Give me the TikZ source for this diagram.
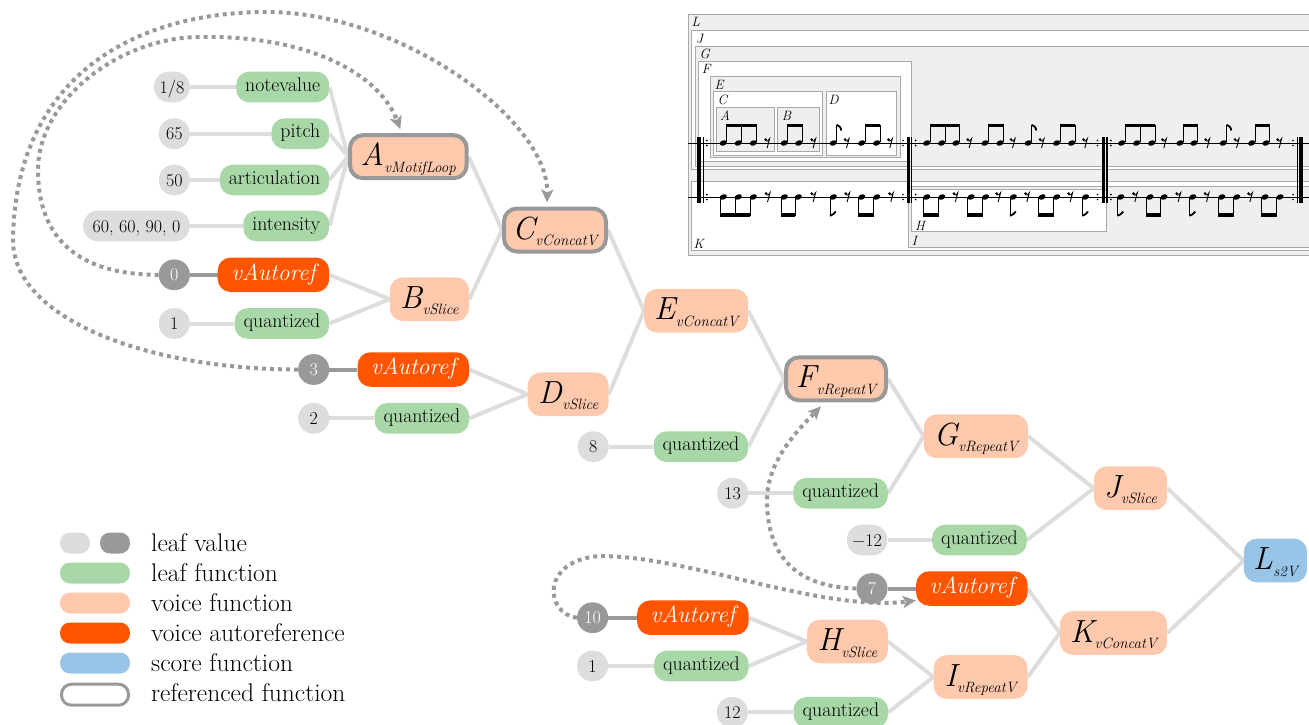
\documentclass[tikz,border=0pt]{standalone}
\usetikzlibrary{arrows.meta,backgrounds}

\definecolor{lgrey}{HTML}{DDDDDD}
\definecolor{dgrey}{HTML}{999999}
\definecolor{leafgreen}{HTML}{A8D8A8}
\definecolor{voicepeach}{HTML}{FFC9AD}
\definecolor{autoorange}{HTML}{FF5500}
\definecolor{scoreblue}{HTML}{98C4E8}
\definecolor{boxgrey}{HTML}{EFEFEF}
\definecolor{boxline}{HTML}{A8A8A8}

% function label: big italic letter with the function name as subscript
\newcommand\vlabel[2]{{\fontsize{32}{32}\selectfont\itshape #1}\kern0.5pt\raisebox{-6.5pt}{\fontsize{15}{16}\selectfont\itshape #2}}

% score engraving helpers (staff lines at y=143 and y=197)
\newcommand\headup[1]{\fill[rotate around={20:(#1,143)}] (#1,143) ellipse [x radius=3.7,y radius=2.6];
  \draw[line width=0.9pt] (#1+3.3,142) -- (#1+3.3,124.5);}
\newcommand\headdn[1]{\fill[rotate around={20:(#1,197)}] (#1,197) ellipse [x radius=3.7,y radius=2.6];
  \draw[line width=0.9pt] (#1-3.3,198) -- (#1-3.3,216);}
\newcommand\flagup[1]{\draw[line width=1.8pt] (#1+3.3,124.8) .. controls (#1+5.5,125.5) and (#1+7.5,127) .. (#1+8,130.5);}
\newcommand\flagdn[1]{\draw[line width=1.8pt] (#1-3.3,215.8) .. controls (#1-1,215) and (#1+1.5,213.5) .. (#1+2.5,211.5);}
\newcommand\erest[2]{\fill (#1-1.6,#2-3.4) circle [radius=1.5];
  \draw[line width=0.9pt] (#1-1.6,#2-2.3) .. controls (#1+0.3,#2-1.6) .. (#1+2.3,#2-4.3) -- (#1-0.2,#2+5);}
\newcommand\rdots[1]{\fill (#1,140.5) circle [radius=0.95]; \fill (#1,145.5) circle [radius=0.95];
  \fill (#1,194.5) circle [radius=0.95]; \fill (#1,199.5) circle [radius=0.95];}

\begin{document}
\begin{tikzpicture}[x=1pt,y=-1pt,
  val/.style={fill=lgrey, rounded corners=15pt, minimum height=30.7pt, minimum width=31pt,
    inner xsep=5.5pt, inner ysep=0pt, text height=12pt, text depth=0pt,
    font=\fontsize{18}{20}\selectfont},
  dval/.style={val, fill=dgrey, text=white},
  leaf/.style={fill=leafgreen, rounded corners=13pt, minimum height=30.7pt, inner xsep=9pt,
    inner ysep=0pt, text height=13pt, text depth=4.5pt, font=\fontsize{19.8}{22}\selectfont},
  voice/.style={fill=voicepeach, rounded corners=13pt, minimum height=43.7pt, inner xsep=6pt,
    inner ysep=0pt, text height=24pt, text depth=6pt},
  refd/.style={draw=dgrey, line width=4pt, minimum height=43pt},
  autoref/.style={fill=autoorange, text=white, rounded corners=13pt, minimum width=111.5pt,
    minimum height=34.5pt, inner sep=0pt, text height=16pt, text depth=5.5pt,
    font=\fontsize{23.5}{26}\selectfont\itshape},
  scorefn/.style={voice, fill=scoreblue},
  tie/.style={draw=lgrey, line width=4pt},
  darktie/.style={draw=dgrey, line width=4pt},
  refarrow/.style={draw=dgrey, line width=4pt, dash pattern=on 4pt off 4pt,
    -{Stealth[length=13pt,width=12pt,inset=3pt]}},
  legpill/.style={minimum height=21pt, rounded corners=10pt, inner sep=0pt},
  legtext/.style={anchor=base west, inner sep=0pt, font=\fontsize{25.5}{28}\selectfont},
  sbox/.style={draw=boxline, line width=0.9pt, fill=boxgrey},
  wbox/.style={sbox, fill=white},
  boxname/.style={anchor=base west, inner sep=0pt, font=\fontsize{13.5}{14}\selectfont\itshape}
]
\useasboundingbox (0,0) rectangle (1309,724);

% ---------------- score ----------------
\begin{scope}
\clip (680,0) rectangle (1309,724);
\draw[sbox] (688.3,14.3) rectangle (1330,255.7);
\draw[wbox] (691.7,30.7) rectangle (1330,169.3);
\draw[sbox] (695,46) rectangle (1330,166);
\draw[wbox] (698.3,61) rectangle (911,161.7);
\draw[sbox] (710,76) rectangle (900,157.7);
\draw[wbox] (713.3,91.7) rectangle (822.7,155);
\draw[sbox] (716,107.3) rectangle (774.3,151);
\draw[sbox] (777.3,107.3) rectangle (819.3,151);
\draw[wbox] (826,91.7) rectangle (896.7,155);
\draw[wbox] (691.7,181.7) rectangle (1330,250.7);
\draw[sbox] (908.3,186) rectangle (1330,247.3);
\draw[wbox] (911,189.3) rectangle (1106,231.7);

\node[boxname] (nL) at (691.5,26.7) {L};
\node[boxname] (nJ) at (696,43.3) {J};
\node[boxname] (nG) at (699.3,58.3) {G};
\node[boxname] (nF) at (701.7,73.3) {F};
\node[boxname] (nE) at (714.3,89) {E};
\node[boxname] (nC) at (717.3,104.3) {C};
\node[boxname] (nA) at (720,120) {A};
\node[boxname] (nB) at (781.7,120) {B};
\node[boxname] (nD) at (828.3,104.3) {D};
\node[boxname] (nK) at (693.3,248.3) {K};
\node[boxname] (nH) at (915,230) {H};
\node[boxname] (nI) at (911.7,245) {I};

% staff lines
\draw[line width=0.8pt] (688.3,143) -- (1309,143);
\draw[line width=0.8pt] (688.3,197) -- (1309,197);

% bar lines and repeat signs
\fill (697.3,137) rectangle (701.3,203);
\fill (702.6,137) rectangle (703.8,203);
\rdots{706.8}
\rdots{903}
\fill (906.5,137) rectangle (910,203);
\fill (911.2,137) rectangle (912.4,203);
\rdots{915.6}
\rdots{1097.5}
\fill (1101.6,137) rectangle (1105.1,203);
\fill (1106.3,137) rectangle (1107.5,203);
\rdots{1110.8}
\rdots{1293}
\fill (1296.6,137) rectangle (1297.8,203);
\fill (1299,137) rectangle (1302.6,203);

% upper voice
\foreach \a/\b/\c in {723.3/738.3/753.3, 926.7/941.7/956, 1121.7/1136.7/1151.7}{
  \headup{\a}\headup{\b}\headup{\c}
  \fill (\a+2.85,124) rectangle (\c+3.75,127.2);}
\foreach \a/\b in {784.3/798.8, 861.7/876.7, 985/1000, 1056.7/1071.7, 1180/1194, 1251.7/1266}{
  \headup{\a}\headup{\b}
  \fill (\a+2.85,124) rectangle (\b+3.75,127.2);}
\foreach \x in {833.3, 1028.3, 1223.3}{\headup{\x}\flagup{\x}}
\foreach \x in {767.3, 813.3, 846.7, 890, 969.3, 1012.7, 1041.7, 1085, 1164, 1207.3, 1236.7, 1279.3}{\erest{\x}{143}}

% lower voice
\foreach \a/\b/\c in {723.3/738.3/753.3}{
  \headdn{\a}\headdn{\b}\headdn{\c}
  \fill (\a-3.75,213.2) rectangle (\c-2.85,216.5);}
\foreach \a/\b in {784.3/798.3, 861.7/876.7, 926.7/941.7, 971/985.5, 1042/1056.7, 1150/1164, 1221.7/1236.7, 1265/1280}{
  \headdn{\a}\headdn{\b}
  \fill (\a-3.75,213.2) rectangle (\b-2.85,216.5);}
\foreach \x in {833.3, 1013.3, 1085.5, 1120.7, 1192.7}{\headdn{\x}\flagdn{\x}}
\foreach \x in {767.7, 813.3, 847.3, 891, 955.5, 998.3, 1027, 1070.3, 1135, 1178.3, 1206.7, 1250}{\erest{\x}{197}}
\end{scope}

% ---------------- tree ----------------
% motif leaves
\node[val, anchor=east] (v18) at (190,87) {1/8};
\node[leaf, anchor=east] (nv) at (329.4,87) {notevalue};
\node[val, anchor=east] (v65) at (190,133.7) {65};
\node[leaf, anchor=east] (pt) at (329.4,133.7) {pitch};
\node[val, anchor=east] (v50) at (190,180) {50};
\node[leaf, anchor=east] (ar) at (329.4,180) {articulation};
\node[val, anchor=east, minimum width=106.7pt] (v60) at (190,226) {60, 60, 90, 0};
\node[leaf, anchor=east] (it) at (329.4,226) {intensity};
\node[voice, refd, anchor=east, minimum width=116.7pt] (A) at (468.7,156.7) {\vlabel{A}{vMotifLoop}};

\node[dval, anchor=east] (v0) at (190,274.8) {0};
\node[autoref, anchor=east] (au0) at (329.4,274.8) {vAutoref};
\node[val, anchor=east] (v1) at (190,323.5) {1};
\node[leaf, anchor=east] (q1) at (329.4,323.5) {quantized};
\node[voice, anchor=east, minimum width=79.3pt] (B) at (469.3,299.2) {\vlabel{B}{vSlice}};

\node[voice, refd, anchor=east, minimum width=102pt] (C) at (608,230) {\vlabel{C}{vConcatV}};

\node[dval, anchor=east] (v3) at (329.4,369.5) {3};
\node[autoref, anchor=east] (au3) at (469.3,369.5) {vAutoref};
\node[val, anchor=east] (v2) at (329.4,418.3) {2};
\node[leaf, anchor=east] (q2) at (469.3,418.3) {quantized};
\node[voice, anchor=east, minimum width=81pt] (D) at (608.9,394.2) {\vlabel{D}{vSlice}};

\node[voice, anchor=east, minimum width=104pt] (E) at (748.4,310.8) {\vlabel{E}{vConcatV}};

\node[val, anchor=east] (v8) at (608.9,446.7) {8};
\node[leaf, anchor=east] (q8) at (748.4,446.7) {quantized};
\node[voice, refd, anchor=east, minimum width=100pt] (F) at (888,378.8) {\vlabel{F}{vRepeatV}};

\node[val, anchor=east] (v13) at (748.4,493.3) {13};
\node[leaf, anchor=east] (q13) at (888.1,493.3) {quantized};
\node[voice, anchor=east, minimum width=104.3pt] (G) at (1028.2,436.3) {\vlabel{G}{vRepeatV}};

\node[val, anchor=east] (vm12) at (887.5,540) {\textminus12};
\node[leaf, anchor=east] (qm12) at (1027,540) {quantized};
\node[voice, anchor=east, minimum width=73.3pt] (J) at (1167.4,488.3) {\vlabel{J}{vSlice}};

\node[scorefn, anchor=east, minimum width=63.3pt] (L) at (1307.3,560.5) {\vlabel{L}{s2V}};

\node[dval, anchor=east] (v7) at (887.7,588.5) {7};
\node[autoref, anchor=east] (au7) at (1027.8,588.5) {vAutoref};
\node[voice, anchor=east, minimum width=107.3pt] (K) at (1167.4,633) {\vlabel{K}{vConcatV}};

\node[dval, anchor=east] (v10) at (608.3,617.7) {10};
\node[autoref, anchor=east] (au10) at (748.8,617.7) {vAutoref};
\node[val, anchor=east] (v1b) at (608.3,666) {1};
\node[leaf, anchor=east] (q1b) at (748.8,666) {quantized};
\node[voice, anchor=east, minimum width=81pt] (H) at (888.1,641.5) {\vlabel{H}{vSlice}};

\node[val, anchor=east] (v12) at (748,712.3) {12};
\node[leaf, anchor=east] (q12) at (888.3,712.3) {quantized};
\node[voice, anchor=east, minimum width=94pt] (I) at (1027.8,677) {\vlabel{I}{vRepeatV}};

% connectors behind the nodes
\begin{pgfonlayer}{background}
\draw[tie] (v18.east) -- (nv.west);
\draw[tie] (v65.east) -- (pt.west);
\draw[tie] (v50.east) -- (ar.west);
\draw[tie] (v60.east) -- (it.west);
\foreach \n in {nv,pt,ar,it}{\draw[tie] (\n.east) -- (A.west);}
\draw[darktie] (v0.east) -- (au0.west);
\draw[tie] (v1.east) -- (q1.west);
\draw[tie] (au0.east) -- (B.west);
\draw[tie] (q1.east) -- (B.west);
\draw[tie] (A.east) -- (C.west);
\draw[tie] (B.east) -- (C.west);
\draw[darktie] (v3.east) -- (au3.west);
\draw[tie] (v2.east) -- (q2.west);
\draw[tie] (au3.east) -- (D.west);
\draw[tie] (q2.east) -- (D.west);
\draw[tie] (C.east) -- (E.west);
\draw[tie] (D.east) -- (E.west);
\draw[tie] (v8.east) -- (q8.west);
\draw[tie] (E.east) -- (F.west);
\draw[tie] (q8.east) -- (F.west);
\draw[tie] (v13.east) -- (q13.west);
\draw[tie] (F.east) -- (G.west);
\draw[tie] (q13.east) -- (G.west);
\draw[tie] (vm12.east) -- (qm12.west);
\draw[tie] (G.east) -- (J.west);
\draw[tie] (qm12.east) -- (J.west);
\draw[tie] (J.east) -- (L.west);
\draw[tie] (K.east) -- (L.west);
\draw[darktie] (v7.east) -- (au7.west);
\draw[tie] (au7.east) -- (K.west);
\draw[tie] (I.east) -- (K.west);
\draw[darktie] (v10.east) -- (au10.west);
\draw[tie] (v1b.east) -- (q1b.west);
\draw[tie] (au10.east) -- (H.west);
\draw[tie] (q1b.east) -- (H.west);
\draw[tie] (H.east) -- (I.west);
\draw[tie] (v12.east) -- (q12.west);
\draw[tie] (q12.east) -- (I.west);
\end{pgfonlayer}

% autoreferences
\draw[refarrow] (v0.west) .. controls (80,274.8) and (38,240) .. (38,170)
  .. controls (38,100) and (120,37) .. (200,37)
  .. controls (310,35) and (380,75) .. ([xshift=-8pt,yshift=4pt]A.north);
\draw[refarrow] (v3.west) .. controls (150,369.5) and (13,320) .. (13,240)
  .. controls (15,80) and (130,12) .. (267,12)
  .. controls (400,12) and (549,120) .. ([xshift=-8pt,yshift=4pt]C.north);
\draw[refarrow] (v7.west) .. controls (800,587) and (767,560) .. (767,500)
  .. controls (767,460) and (800,428) .. ([xshift=-15pt,yshift=-4pt]F.south);
\draw[refarrow] (v10.west) .. controls (545,614) and (540,560) .. (600,556)
  .. controls (690,556) and (820,612) .. ([yshift=-12pt]au7.west);

% legend
\node[legpill, fill=lgrey, minimum width=30pt] (lg1) at (75,543) {};
\node[legpill, fill=dgrey, minimum width=30pt] (lg2) at (115,543) {};
\node[legpill, fill=leafgreen, minimum width=70pt] (lg3) at (95,573) {};
\node[legpill, fill=voicepeach, minimum width=70pt] (lg4) at (95,603) {};
\node[legpill, fill=autoorange, minimum width=70pt] (lg5) at (95,633) {};
\node[legpill, fill=scoreblue, minimum width=70pt] (lg6) at (95,663) {};
\node[legpill, draw=dgrey, line width=3pt, fill=white, minimum width=67pt] (lg7) at (95,694.7) {};
\node[legtext] (lt1) at (151,551.5) {leaf value};
\node[legtext] (lt2) at (151,581.5) {leaf function};
\node[legtext] (lt3) at (151,611.5) {voice function};
\node[legtext] (lt4) at (151,641.5) {voice autoreference};
\node[legtext] (lt5) at (151,671.5) {score function};
\node[legtext] (lt6) at (151,701.5) {referenced function};
\end{tikzpicture}
\end{document}
